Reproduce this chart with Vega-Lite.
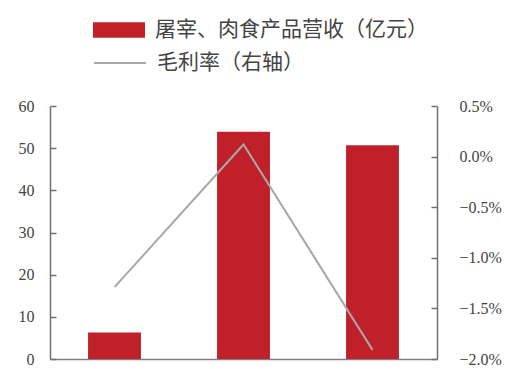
{
  "$schema": "https://vega.github.io/schema/vega-lite/v6.json",
  "width": 387,
  "height": 253,
  "autosize": "none",
  "padding": {"left": 50, "top": 106, "right": 71, "bottom": 11},
  "background": "white",
  "data": {"values": [
    {"period": "期间1", "revenue": 6.3, "margin": -0.0129},
    {"period": "期间2", "revenue": 53.9, "margin": 0.0012},
    {"period": "期间3", "revenue": 50.7, "margin": -0.0191}
  ]},
  "encoding": {
    "x": {"field": "period", "type": "nominal", "sort": null,
      "scale": {"paddingInner": 0.59, "paddingOuter": 0.295},
      "axis": {"title": null, "labels": false, "ticks": false, "domainColor": "#808080", "domainWidth": 1.5}}
  },
  "layer": [
    {
      "mark": {"type": "bar", "color": "#c0202a"},
      "encoding": {
        "y": {"field": "revenue", "type": "quantitative",
          "scale": {"domain": [0, 60], "nice": false},
          "axis": {"title": null, "values": [0, 10, 20, 30, 40, 50, 60], "grid": false,
            "tickSize": -6, "labelPadding": 22, "domainColor": "#707070", "domainWidth": 1.5,
            "tickColor": "#707070", "tickWidth": 1.5,
            "labelFont": "Liberation Serif", "labelFontSize": 16, "labelColor": "#444"}},
        "fill": {"datum": "屠宰、肉食产品营收（亿元）", "type": "nominal",
          "scale": {"range": ["#c0202a"]},
          "legend": {"title": null, "orient": "none", "legendX": 43, "legendY": -102,
            "symbolType": "M-1,-0.3H1V0.3H-1Z", "symbolSize": 2704, "symbolStrokeWidth": 0,
            "labelFont": "Noto Sans CJK SC", "labelFontSize": 21, "labelColor": "#444", "labelOffset": 10,
            "labelLimit": 400, "padding": 0}}
      }
    },
    {
      "mark": {"type": "line", "strokeWidth": 2},
      "encoding": {
        "y": {"field": "margin", "type": "quantitative",
          "scale": {"domain": [-0.02, 0.005], "nice": false, "zero": false},
          "axis": {"title": null, "orient": "right", "format": ".1%",
            "values": [0.005, 0, -0.005, -0.01, -0.015, -0.02], "grid": false,
            "tickSize": -6, "labelPadding": 28, "domainColor": "#707070", "domainWidth": 1.5,
            "tickColor": "#707070", "tickWidth": 1.5,
            "labelFont": "Liberation Serif", "labelFontSize": 16, "labelColor": "#444"}},
        "stroke": {"datum": "毛利率（右轴）", "type": "nominal",
          "scale": {"range": ["#a8a8a8"]},
          "legend": {"title": null, "orient": "none", "legendX": 43, "legendY": -70,
            "symbolType": "stroke", "symbolSize": 2704, "symbolStrokeWidth": 2,
            "labelFont": "Noto Sans CJK SC", "labelFontSize": 21, "labelColor": "#444", "labelOffset": 10,
            "labelLimit": 400, "padding": 0}}
      }
    }
  ],
  "resolve": {"scale": {"y": "independent"}},
  "config": {"view": {"stroke": null}}
}
